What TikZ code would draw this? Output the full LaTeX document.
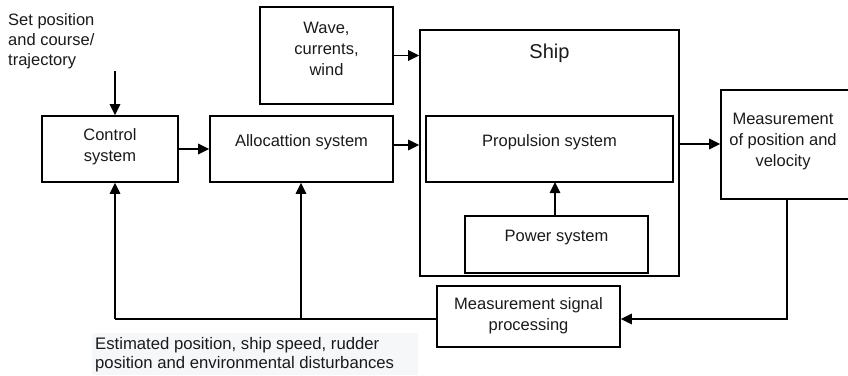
\documentclass[tikz,border=0pt]{standalone}
\usepackage{fontspec}
\setmainfont{Liberation Sans}
\usetikzlibrary{arrows.meta}
\definecolor{txt}{HTML}{1A1A1A}
\definecolor{bgnote}{HTML}{F6F7F9}
\begin{document}
\begin{tikzpicture}[x=1pt,y=-1pt,
  blk/.style={draw, line width=1.7pt, inner sep=0pt},
  lbl/.style={font=\fontsize{16.5}{21}\selectfont, text=txt, align=center, inner sep=0pt},
  conn/.style={line width=1.7pt, -{Triangle[length=11pt,width=10.5pt]}},
  plain/.style={line width=1.7pt}]
\useasboundingbox (0,0) rectangle (848,375);
% note background
\fill[bgnote] (92,333) rectangle (418,375);
% boxes
\node[blk, minimum width=136pt, minimum height=66pt] (ctrl) at (110,149) {};
\node[lbl] at (110,147) {Control\\system};
\node[blk, minimum width=183pt, minimum height=66pt] (alloc) at (301.5,149) {};
\node[lbl] at (301.5,142) {Allocattion system};
\node[blk, minimum width=133pt, minimum height=97pt] (wave) at (326.5,55.5) {};
\node[lbl] at (326.5,49) {Wave,\\currents,\\wind};
\node[blk, minimum width=259pt, minimum height=246pt] (ship) at (549.5,153) {};
\node[lbl, font=\fontsize{20}{24}\selectfont] at (549.5,53) {Ship};
\node[blk, minimum width=247pt, minimum height=66pt] (prop) at (549.5,149) {};
\node[lbl] at (549.5,142) {Propulsion system};
\node[blk, minimum width=183pt, minimum height=57pt] (power) at (556.5,244.5) {};
\node[lbl] at (556.5,238) {Power system};
\node[blk, minimum width=130pt, minimum height=109pt] (meas) at (786,144.5) {};
\node[lbl] at (783,141.5) {Measurement\\of position and\\velocity};
\node[blk, minimum width=183pt, minimum height=61pt] (msp) at (528.5,316.5) {};
\node[lbl] at (528.5,316) {Measurement signal\\processing};
% texts
\node[lbl, align=left, anchor=north west, font=\fontsize{16.5}{20}\selectfont] (setp) at (8,13) {Set position\\and course/\\trajectory};
\node[lbl, align=left, anchor=north west, font=\fontsize{16.7}{19}\selectfont] (note) at (95,337) {Estimated position, ship speed, rudder\\position and environmental disturbances};
% connectors
\coordinate (top) at (115,71);
\draw[conn] (top) -- (top |- ctrl.north);
\draw[conn] (ctrl.east) -- (alloc.west);
\draw[conn] (wave.east) -- (wave.east -| ship.west);
\draw[conn] (alloc.east |- 0,145) -- (ship.west |- 0,145);
\draw[conn] (power.north -| 555,0) -- (555,182);
\draw[conn] (ship.east |- 0,144) -- (meas.west |- 0,144);
\coordinate (mr) at (787,319);
\draw[conn] (787,199) -- (mr) -- (msp.east |- mr);
\coordinate (bl) at (115,319);
\coordinate (bm) at (301,319);
\draw[plain] (msp.west |- bl) -- (bl);
\draw[conn] (bl) -- (bl |- ctrl.south);
\draw[conn] (bm) -- (bm |- alloc.south);
\end{tikzpicture}
\end{document}
